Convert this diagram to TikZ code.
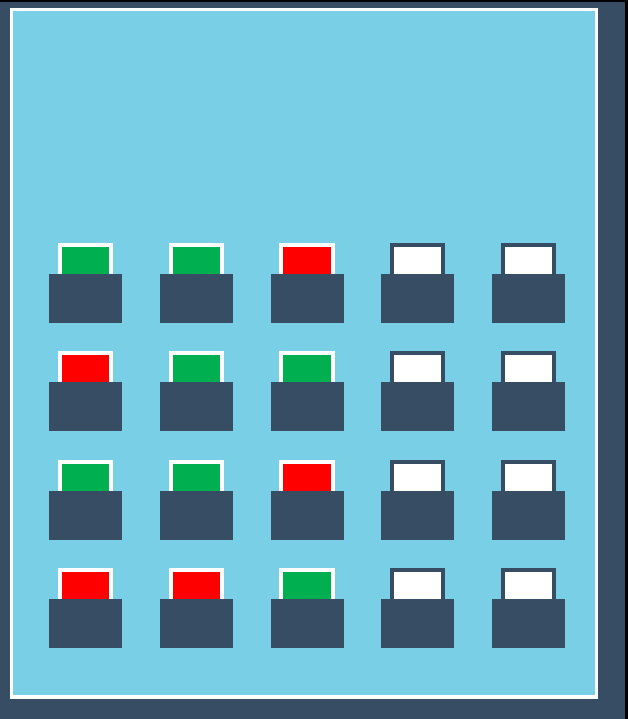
\documentclass[tikz,border=0pt]{standalone}
\usetikzlibrary{positioning}
\definecolor{slate}{HTML}{374D63}
\definecolor{sky}{HTML}{78CFE6}
\definecolor{okgreen}{HTML}{00AF50}
\definecolor{failred}{HTML}{FF0000}
\begin{document}
\begin{tikzpicture}[x=1pt,y=-1pt,
  base/.style={fill=slate,minimum width=73pt,minimum height=49pt,inner sep=0},
  tab/.style={line width=4pt,minimum width=51.4pt,minimum height=40pt,inner sep=0},
  ok/.style={tab,draw=white,fill=okgreen},
  fail/.style={tab,draw=white,fill=failred},
  idle/.style={tab,draw=slate,fill=white}]
  % cadre
  \useasboundingbox (0,0) rectangle (628,719);
  \fill[slate] (0,0) rectangle (628,719);
  \fill[black] (0,0) rectangle (628,2);
  \fill[black] (625,0) rectangle (628,719);
  \node[draw=white,line width=3.5pt,fill=sky,minimum width=585pt,minimum height=687.5pt,inner sep=0] (panel) at (304,353.25) {};
  % emplacements
  \foreach \row/\y/\states in {1/298.5/{ok,ok,fail,idle,idle},2/406.5/{fail,ok,ok,idle,idle},3/515.5/{ok,ok,fail,idle,idle},4/623.5/{fail,fail,ok,idle,idle}}{
    \foreach \s [count=\col] in \states {
      \pgfmathsetmacro{\x}{85.5+110.75*(\col-1)}
      \node[\s] (tab\row-\col) at (\x,\y-33.2) {};
      \node[base] (slot\row-\col) at (\x,\y) {};
    }
  }
\end{tikzpicture}
\end{document}
